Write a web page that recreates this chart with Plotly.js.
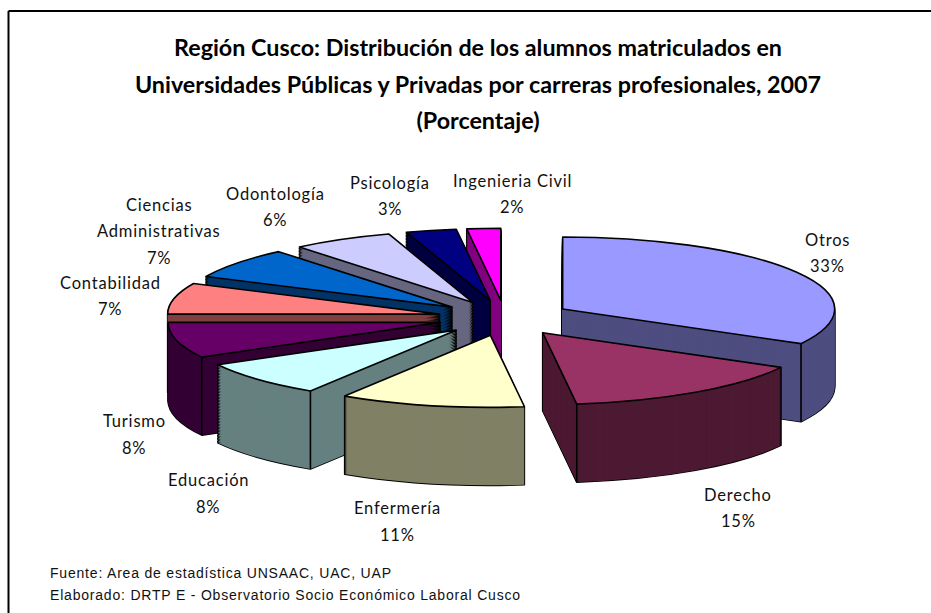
<!DOCTYPE html>
<html><head><meta charset="utf-8">
<script src="https://cdn.plot.ly/plotly-3.0.1.min.js"></script>
<style>html,body{margin:0;padding:0;background:#fff}#g{width:931px;height:613px}
.pielayer path{vector-effect:non-scaling-stroke;stroke-linejoin:round}
.annotation-text{letter-spacing:.8px}</style></head><body><div id="g"></div>
<script>
var carreras=["Otros","Derecho","Enfermería","Educación","Turismo","Contabilidad","Ciencias Administrativas","Odontología","Psicología","Ingenieria Civil"];
var porcentajes=[33,15,11,8,8,7,7,6,3,2];
var coloresSup=["#9999ff","#993366","#ffffcc","#ccffff","#660066","#ff8080","#0066cc","#ccccff","#000080","#ff00ff"];
var coloresLat=["#4d4d80","#4d1a33","#808066","#668080","#330033","#804040","#003366","#666680","#000040","#800080"];
var ordenPintado=[9,8,7,6,5,0,4,3,1,2];
var pasos=[2,1,1,1.5,1.5,1.5,1.5,1.5,1.5,1.5];
var etiquetas=[["Otros","33%"],["Derecho","15%"],["Enfermería","11%"],["Educación","8%"],["Turismo","8%"],["Contabilidad","7%"],["Ciencias","Administrativas","7%"],["Odontología","6%"],["Psicología","3%"],["Ingenieria Civil","2%"]];
var etiquetaX=[827,738,397,208,134,110,159,275,390,512];
var etiquetaY=[[240,266],[495,521],[508,535],[480,507],[421,448],[283,309],[205,231,258],[194,220],[183,209],[181,207]];
var titulo="Región Cusco: Distribución de los alumnos matriculados en<br>Universidades Públicas y Privadas por carreras profesionales, 2007<br>(Porcentaje)";
var pie1="Fuente: Area de estadística UNSAAC, UAC, UAP";
var pie2="Elaborado: DRTP E - Observatorio Socio Económico Laboral Cusco";

var W=931,H=613,CX=505,CY=318,RX=272,RY=72,PROF=78,PULL=0.2463;
var DOM=200, r0=DOM/(2+2*PULL);
var total=porcentajes.reduce(function(a,b){return a+b},0);
var ini=[],s=0;porcentajes.forEach(function(v){ini.push(s);s+=v});
var T='rgba(0,0,0,0)';
var dom={x:[(CX-DOM/2)/W,(CX+DOM/2)/W],y:[1-(CY+DOM/2)/H,1-(CY-DOM/2)/H]};
function capa(i,color,lw){
 return {type:'pie',sort:false,direction:'clockwise',rotation:0,textinfo:'none',hoverinfo:'skip',showlegend:false,domain:dom,
  labels:['a','b','c'],values:[ini[i],porcentajes[i],total-ini[i]-porcentajes[i]],pull:[0,PULL,0],
  marker:{colors:[T,color,T],line:{color:['rgba(0,0,0,0)','#000','rgba(0,0,0,0)'],width:[0,lw,0]}}};
}
var data=[],prof=[];
ordenPintado.forEach(function(i){
 var d,p=pasos[i];
 for(d=PROF;d>0;d-=p){data.push(capa(i,'#000',1.6));prof.push(d)}
 for(d=PROF;d>0;d-=p){data.push(capa(i,coloresLat[i],0));prof.push(d)}
 data.push(capa(i,coloresSup[i],1.6));prof.push(0);
});
var ann=[];
etiquetas.forEach(function(l,i){l.forEach(function(t,j){
 ann.push({xref:'paper',yref:'paper',x:etiquetaX[i]/W,y:1-etiquetaY[i][j]/H,text:t,showarrow:false,xanchor:'center',yanchor:'middle',
  font:{family:'Lato',size:16.5,color:'#111'}});
})});
[[pie1,573],[pie2,595]].forEach(function(p){
 ann.push({xref:'paper',yref:'paper',x:48/W,y:1-p[1]/H,text:p[0],showarrow:false,xanchor:'left',yanchor:'middle',
  font:{family:'Liberation Sans',size:14,color:'#111'}});
});
// borde superior e izquierdo; aristas verticales en las esquinas visibles, derivadas de los valores
var shapes=[
 {type:'line',xref:'paper',yref:'paper',x0:8.5/W,x1:1,y0:1-11/H,y1:1-11/H,line:{color:'#000',width:2}},
 {type:'line',xref:'paper',yref:'paper',x0:8.5/W,x1:8.5/W,y0:1-11/H,y1:0,line:{color:'#000',width:2}}
];
[[0,1],[1,1],[3,0],[4,0]].forEach(function(e){
 var i=e[0],m=(ini[i]+porcentajes[i]/2)/total*2*Math.PI,a=(ini[i]+(e[1]?porcentajes[i]:0))/total*2*Math.PI;
 var px=PULL*RX,py=PULL*RY;
 var x=CX+px*Math.sin(m)+RX*Math.sin(a),y=CY-py*Math.cos(m)-RY*Math.cos(a);
 shapes.push({type:'line',layer:'above',xref:'paper',yref:'paper',x0:x/W,x1:x/W,y0:1-y/H,y1:1-(y+PROF)/H,line:{color:'#000',width:1.6}});
});
var layout={width:W,height:H,margin:{l:0,r:0,t:0,b:0},paper_bgcolor:'#fff',
 title:{text:titulo,x:478/W,xanchor:'center',y:1-48/H,yanchor:'middle',font:{family:'Lato',size:23.3,color:'#000',weight:700}},
 annotations:ann,shapes:shapes};
Plotly.newPlot('g',data,layout,{staticPlot:true,displayModeBar:false}).then(function(gd){
 var sx=RX/r0,sy=RY/r0;
 gd.querySelectorAll('.pielayer .trace').forEach(function(g,k){
  g.setAttribute('transform','translate(0,'+prof[k]+') translate('+CX+','+CY+') scale('+sx+','+sy+') translate('+(-CX)+','+(-CY)+')');
 });
 var t=gd.querySelector('.gtitle');
 t.setAttribute('y',56);t.removeAttribute('dy');
 gd.querySelectorAll('.gtitle tspan.line').forEach(function(l,i){l.setAttribute('y',56+36.5*i);l.removeAttribute('dy')});
});
</script></body></html>
